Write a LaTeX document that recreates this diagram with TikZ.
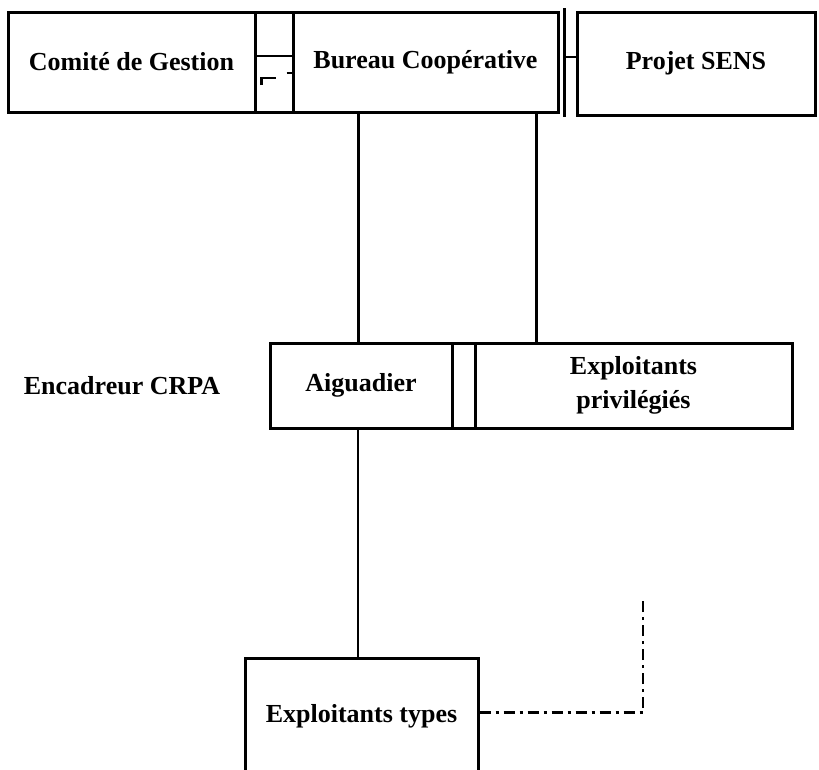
\documentclass[tikz,border=0pt]{standalone}
\usepackage{fontspec}
\setmainfont{Liberation Serif}
\usetikzlibrary{calc}
\tikzset{
  texte/.style={font=\bfseries\fontsize{26}{34}\selectfont},
  boite/.style={texte,draw,line width=3pt,inner sep=0pt,align=center},
  lien/.style={line width=2.8pt},
  tiret/.style={line width=2.8pt,dash pattern=on 11pt off 5pt on 3pt off 5pt},
}
\begin{document}
\begin{tikzpicture}[x=1pt,y=-1pt]
  \clip (0,0) rectangle (819,769);
  % rangee du haut
  \node[boite,minimum width=247pt,minimum height=100pt] (comite) at (131.5,62) {Comité de Gestion};
  \node[boite,minimum width=38pt,minimum height=100pt] (bande) at (274,62) {};
  \node[boite,minimum width=265pt,minimum height=100pt] (bureau) at (425.5,62) {Bureau Coopérative};
  \node[boite,minimum width=238pt,minimum height=103pt] (projet) at (696,63.5) {Projet SENS};
  \draw[lien] ($(bande.west)+(2,-6)$) -- ($(bande.east)+(-2,-6)$);
  \draw[lien] ($(bande.west)+(8,23)$) -- ($(bande.west)+(8,16)$) -- ($(bande.west)+(22,16)$);
  \draw[lien] ($(bande.east)+(-8,11)$) -- ($(bande.east)+(-1,11)$);
  \coordinate (barre) at ($(bureau.east)+(5,0)$);
  \draw[lien] ($(barre)+(0,-54)$) -- ($(barre)+(0,55)$);
  \draw[lien] ($(barre)+(0,-5)$) -- ($(barre -| projet.west)+(0,-5)$);
  % rangee du milieu
  \node[texte] (encadreur) at (122,386) {Encadreur CRPA};
  \node[boite,minimum width=182pt,minimum height=85pt] (aiguadier) at (361,385.5) {Aiguadier};
  \node[boite,minimum width=23pt,minimum height=85pt] (bande2) at (463.5,385.5) {};
  \node[boite,minimum width=317pt,minimum height=85pt] (privil) at (633.5,385.5) {Exploitants\\privilégiés};
  \draw[lien] ([xshift=67pt]bureau.south west) -- ([xshift=67pt]bureau.south west |- aiguadier.north);
  \draw[lien] ([xshift=245pt]bureau.south west) -- ([xshift=245pt]bureau.south west |- privil.north);
  % rangee du bas
  \node[boite,minimum width=233pt,minimum height=117pt] (types) at (361.5,716.5) {Exploitants types};
  \draw[lien] ([xshift=-3pt]aiguadier.south) -- ([xshift=-3pt]aiguadier.south |- types.north);
  \coordinate (coin) at (643,598);
  \draw[tiret] ([yshift=4pt]types.east) -| (coin);
\end{tikzpicture}
\end{document}
